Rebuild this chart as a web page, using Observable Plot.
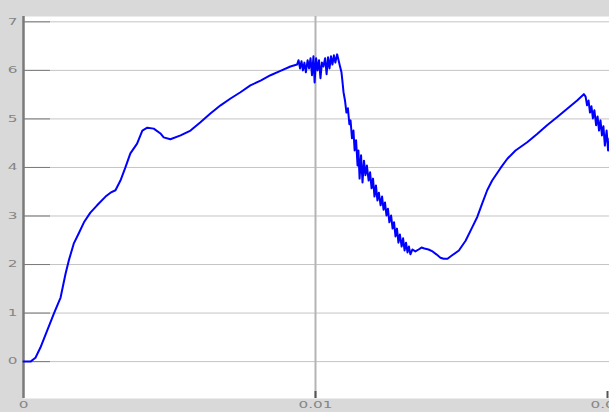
<!DOCTYPE html>
<html>
<head>
<meta charset="utf-8">
<script src="https://cdn.jsdelivr.net/npm/d3@7"></script>
<script src="https://cdn.jsdelivr.net/npm/@observablehq/plot@0.6"></script>
<style>
  html, body { margin: 0; padding: 0; background: #d9d9d9; overflow: hidden; }
</style>
</head>
<body>
<div id="chart"></div>
<script>
// time (s)
const t = [
  0, 0.00024, 0.00041, 0.00058, 0.00081, 0.00104, 0.00127, 0.00144, 0.00155, 0.00172,
  0.00189, 0.00207, 0.00229, 0.00252, 0.00281, 0.00298, 0.00315, 0.00332, 0.00349, 0.00366,
  0.00389, 0.00407, 0.00424, 0.00446, 0.00469, 0.00480, 0.00503, 0.00538, 0.00572, 0.00606,
  0.00640, 0.00675, 0.00709, 0.00743, 0.00777, 0.00812, 0.00846, 0.00880, 0.00914, 0.00937,
  0.00942, 0.00947, 0.00952, 0.00957, 0.00962, 0.00967, 0.00973, 0.00978, 0.00983, 0.00988,
  0.00993, 0.00997, 0.01002, 0.01007, 0.01012, 0.01017, 0.01022, 0.01027, 0.01033, 0.01038,
  0.01043, 0.01048, 0.01053, 0.01058, 0.01063, 0.01068, 0.01074, 0.01079, 0.01084, 0.01089,
  0.01092, 0.01096, 0.01101, 0.01106, 0.01111, 0.01116, 0.01120, 0.01125, 0.01130, 0.01134,
  0.01139, 0.01144, 0.01147, 0.01151, 0.01156, 0.01161, 0.01166, 0.01171, 0.01176, 0.01182,
  0.01187, 0.01192, 0.01197, 0.01202, 0.01207, 0.01212, 0.01217, 0.01223, 0.01228, 0.01233,
  0.01238, 0.01243, 0.01248, 0.01253, 0.01259, 0.01264, 0.01269, 0.01274, 0.01279, 0.01284,
  0.01289, 0.01295, 0.01300, 0.01305, 0.01310, 0.01315, 0.01320, 0.01325, 0.01332, 0.01342,
  0.01353, 0.01363, 0.01373, 0.01387, 0.01401, 0.01414, 0.01428, 0.01439, 0.01452, 0.01468,
  0.01491, 0.01514, 0.01537, 0.01554, 0.01571, 0.01588, 0.01605, 0.01634, 0.01657, 0.01685,
  0.01725, 0.01759, 0.01793, 0.01828, 0.01862, 0.01896, 0.01919, 0.01925, 0.01930, 0.01935,
  0.01940, 0.01945, 0.01950, 0.01955, 0.01961, 0.01966, 0.01971, 0.01976, 0.01981, 0.01986,
  0.01991, 0.01997, 0.02002, 0.02007
];
// signal value
const v = [
  0, 0, 0.08, 0.29, 0.64, 0.99, 1.32, 1.81, 2.08, 2.43,
  2.64, 2.87, 3.07, 3.22, 3.40, 3.48, 3.53, 3.73, 4.00, 4.29,
  4.49, 4.76, 4.82, 4.80, 4.70, 4.62, 4.58, 4.66, 4.76, 4.93,
  5.11, 5.28, 5.42, 5.55, 5.69, 5.79, 5.90, 5.99, 6.08, 6.12,
  6.21, 6.04, 6.19, 6.00, 6.16, 5.96, 6.21, 6.04, 6.25, 5.90,
  6.29, 5.75, 6.25, 6.00, 6.21, 5.84, 6.16, 6.08, 6.25, 5.92,
  6.27, 6.04, 6.29, 6.12, 6.31, 6.16, 6.33, 6.21, 6.08, 5.96,
  5.79, 5.55, 5.38, 5.13, 5.22, 4.89, 4.97, 4.60, 4.76, 4.35,
  4.56, 4.04, 4.35, 3.77, 4.25, 3.69, 4.14, 3.84, 4.04, 3.73,
  3.90, 3.57, 3.77, 3.40, 3.63, 3.32, 3.48, 3.22, 3.40, 3.13,
  3.28, 3.01, 3.15, 2.87, 3.01, 2.74, 2.87, 2.58, 2.74, 2.45,
  2.62, 2.37, 2.54, 2.29, 2.45, 2.25, 2.37, 2.21, 2.31, 2.27,
  2.31, 2.35, 2.33, 2.31, 2.27, 2.21, 2.14, 2.12, 2.12, 2.19,
  2.29, 2.49, 2.77, 2.98, 3.26, 3.53, 3.73, 3.99, 4.18, 4.35,
  4.52, 4.69, 4.87, 5.04, 5.21, 5.38, 5.51, 5.46, 5.28, 5.38,
  5.13, 5.26, 5.01, 5.18, 4.87, 5.05, 4.76, 4.97, 4.66, 4.85,
  4.45, 4.76, 4.35, 4.60
];
const yTicks = [0, 1, 2, 3, 4, 5, 6, 7];
const xTicks = [0, 0.01, 0.02];
const xTickLabels = ["0", "0.01", "0.02"];
const xGrid = [0.01];

const data = t.map((d, i) => ({t: d, v: v[i]}));

const chart = Plot.plot({
  width: 609,
  height: 412,
  marginLeft: 23,
  marginRight: 0,
  marginTop: 16,
  marginBottom: 14,
  style: {background: "#d9d9d9", fontFamily: "DejaVu Sans", overflow: "hidden"},
  x: {domain: [0, 0.0200685]},
  y: {domain: [-0.76, 7.11]},
  marks: [
    Plot.frame({fill: "white", stroke: null}),
    Plot.ruleY(yTicks, {stroke: "#c4c4c4", strokeWidth: 1}),
    Plot.ruleY(yTicks, {stroke: "#7a7a7a", strokeWidth: 1, insetRight: 559}),
    Plot.ruleX(xGrid, {stroke: "#b4b4b4", strokeWidth: 2}),
    Plot.ruleX(xTicks.slice(1), {stroke: "#555", strokeWidth: 2, insetTop: 375}),
    Plot.ruleX([0], {stroke: "#7a7a7a", strokeWidth: 2.5}),
    Plot.line(data, {x: "t", y: "v", stroke: "#0000ff", strokeWidth: 2}),
    Plot.axisY({ticks: yTicks, tickSize: 0, tickPadding: 11, textAnchor: "middle",
      fill: "#858585", fontSize: 8.5, label: null}),
    Plot.axisX({ticks: xTicks, tickSize: 0, tickPadding: 3,
      tickFormat: (d, i) => xTickLabels[i], fill: "#858585", fontSize: 8.5, label: null})
  ]
});
document.getElementById("chart").appendChild(chart);

// widen the axis labels horizontally, as in the reference
chart.querySelectorAll("g[aria-label$='tick label'] text").forEach(el => {
  const b = el.getBBox();
  const cx = b.x + b.width / 2, cy = b.y + b.height / 2;
  const old = el.getAttribute("transform") || "";
  el.setAttribute("transform", `${old} translate(${cx},${cy}) scale(1.8,1) translate(${-cx},${-cy})`);
});
</script>
</body>
</html>
